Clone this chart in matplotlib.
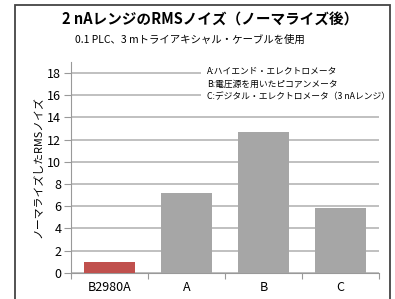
import matplotlib
matplotlib.use("Agg")
import matplotlib.pyplot as plt
from matplotlib.patches import Rectangle

plt.rcParams['font.family'] = ['Noto Sans CJK JP', 'DejaVu Sans']

categories = ["B2980A", "A", "B", "C"]
values = [1.0, 7.2, 12.7, 5.8]
colors = ["#c0504d", "#a6a6a6", "#a6a6a6", "#a6a6a6"]
yticks = [0, 2, 4, 6, 8, 10, 12, 14, 16, 18]
legend_lines = ["A:ハイエンド・エレクトロメータ",
                "B:電圧源を用いたピコアンメータ",
                "C:デジタル・エレクトロメータ（3 nAレンジ）"]
title = "2 nAレンジのRMSノイズ（ノーマライズ後）"
subtitle = "0.1 PLC、3 mトライアキシャル・ケーブルを使用"
ylabel = "ノーマライズしたRMSノイズ"

fig = plt.figure(figsize=(3.95, 2.99), dpi=100)
ax = fig.add_axes([71/395, 1-272.7/299, (379-71)/395, (272.7-62)/299])

x = list(range(len(categories)))
ax.bar(x, values, width=0.67, color=colors, zorder=3)
ax.set_xlim(-0.5, len(categories)-0.5)
ax.set_ylim(0, 19)
ax.set_yticks(yticks)
ax.set_xticks(x)
ax.set_xticklabels(categories)
ax.set_xticks([i-0.5 for i in range(len(categories)+1)], minor=True)
ax.tick_params(axis='x', which='major', length=0, pad=6, labelsize=9)
ax.tick_params(axis='x', which='minor', length=4, color='#999999', width=0.8)
ax.tick_params(axis='y', length=5, color='#999999', width=0.8, labelsize=9, pad=2)
ax.yaxis.grid(True, color='#b5b5b5', linewidth=1.2, zorder=0)
for s in ['top', 'right']:
    ax.spines[s].set_visible(False)
for s in ['left', 'bottom']:
    ax.spines[s].set_color('#999999')
    ax.spines[s].set_linewidth(0.8)
ax.set_ylabel(ylabel, fontsize=7.8, labelpad=3)

ax.text(207/395, 1-67/299, "\n".join(legend_lines), transform=fig.transFigure,
        fontsize=6.3, va='top', ha='left', linespacing=1.5,
        bbox=dict(facecolor='white', edgecolor='none', pad=4), zorder=5)

fig.text(210/395, 1-20/299, title, fontsize=10.5, fontweight='bold', ha='center', va='center')
fig.text(75/395, 1-40/299, subtitle, fontsize=7.5, ha='left', va='center')

fig.add_artist(Rectangle((15/395, -0.1), (390-15)/395, 1.1-5/299,
                         transform=fig.transFigure, fill=False,
                         edgecolor='#444444', linewidth=1.3, clip_on=False))

fig.savefig("out.png", dpi=100)
